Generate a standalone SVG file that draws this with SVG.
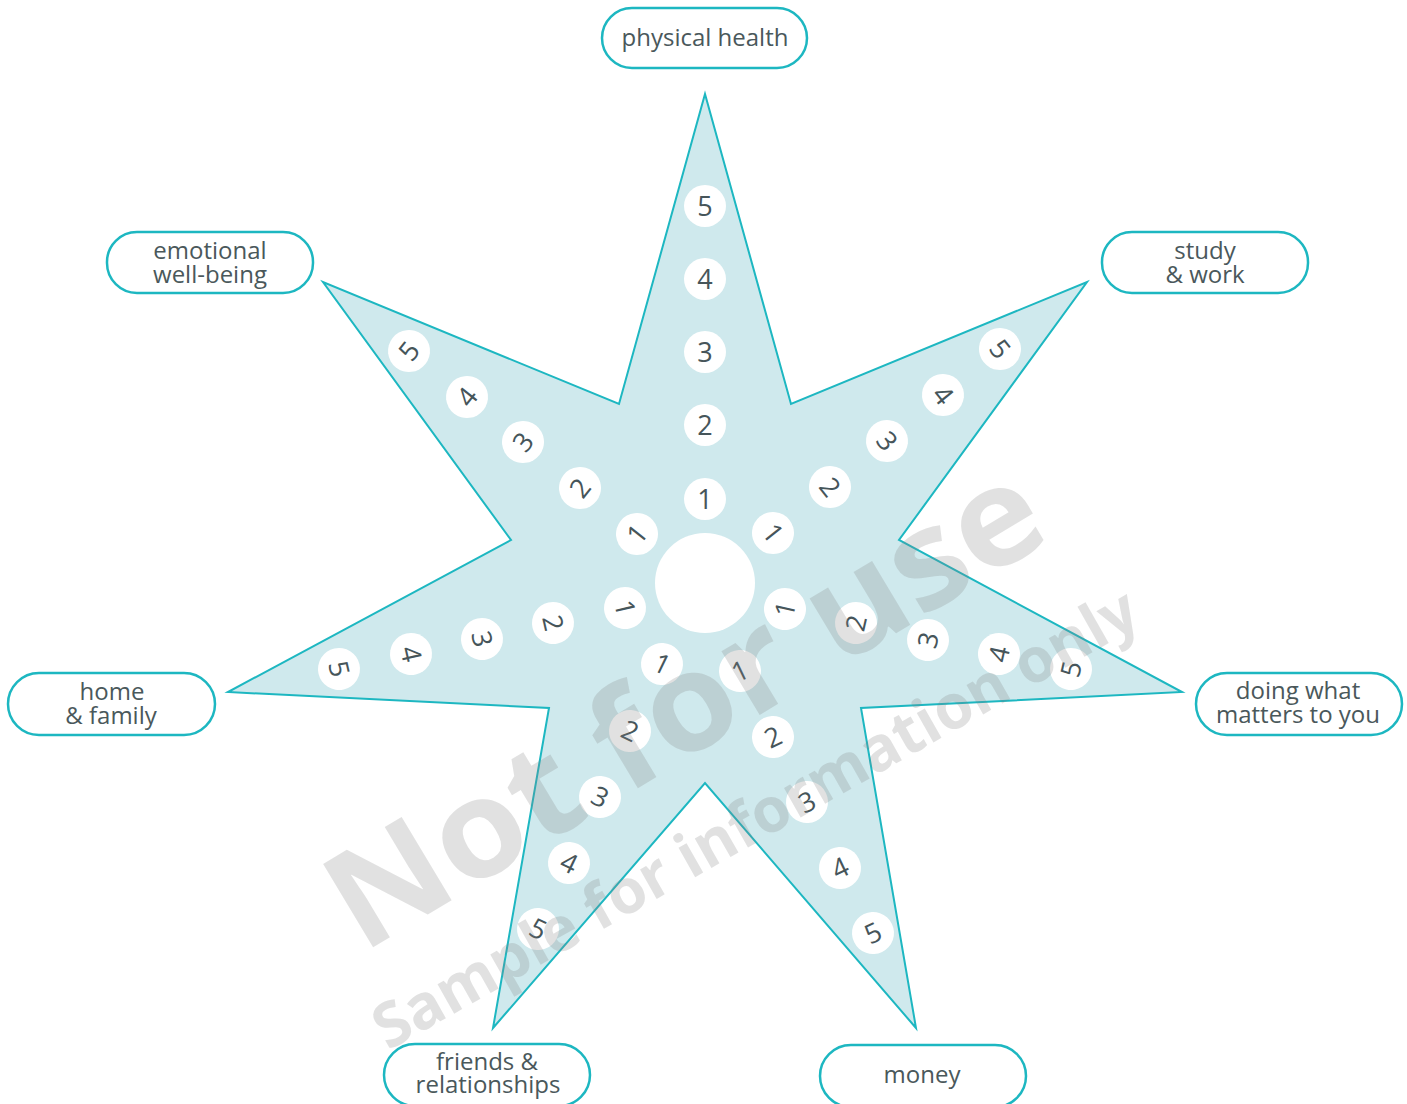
<svg xmlns="http://www.w3.org/2000/svg" width="1407" height="1104" viewBox="0 0 1407 1104">
<style>
.lbl rect{fill:#fff;stroke:#1db7c1;stroke-width:2.5}
.lbl text{font-family:"Open Sans","Noto Sans",sans-serif;font-size:24px;fill:#4a585b;text-anchor:middle}
.num circle{fill:#fff}
.num text{font-family:"Open Sans","Noto Sans",sans-serif;font-size:27px;fill:#46555a;text-anchor:middle}
.wm{font-family:"Open Sans","Noto Sans",sans-serif;font-weight:bold;fill:#808080;fill-opacity:0.24}
</style>
<rect width="1407" height="1104" fill="#fff"/>
<g id="star">
<polygon points="705,94 791,404 1087,282 899,540 1182,692 861,708 916,1028 705,783 493,1028 549,708 228,692 511,540 323,282 619,404" fill="#cfe9ed" stroke="#1db7c1" stroke-width="2" stroke-linejoin="miter"/>
<circle id="hub" cx="705" cy="583" r="50" fill="#fff"/>
</g>
<g id="arm-top" class="num">
<g id="top-1" transform="translate(705,499)"><circle r="21"/><text y="9.6">1</text></g>
<g id="top-2" transform="translate(705,425)"><circle r="21"/><text y="9.6">2</text></g>
<g id="top-3" transform="translate(705,352)"><circle r="21"/><text y="9.6">3</text></g>
<g id="top-4" transform="translate(705,279)"><circle r="21"/><text y="9.6">4</text></g>
<g id="top-5" transform="translate(705,206)"><circle r="21"/><text y="9.6">5</text></g>
</g>
<g id="arm-upper-right" class="num">
<g id="ur-1" transform="translate(773,533) rotate(51.43)"><circle r="21"/><text y="9.6">1</text></g>
<g id="ur-2" transform="translate(830,487) rotate(51.43)"><circle r="21"/><text y="9.6">2</text></g>
<g id="ur-3" transform="translate(887,441) rotate(51.43)"><circle r="21"/><text y="9.6">3</text></g>
<g id="ur-4" transform="translate(943,395) rotate(51.43)"><circle r="21"/><text y="9.6">4</text></g>
<g id="ur-5" transform="translate(1000,349) rotate(51.43)"><circle r="21"/><text y="9.6">5</text></g>
</g>
<g id="arm-right" class="num">
<g id="r-1" transform="translate(785,609) rotate(-77.14)"><circle r="21"/><text y="9.6">1</text></g>
<g id="r-2" transform="translate(856,623) rotate(-77.14)"><circle r="21"/><text y="9.6">2</text></g>
<g id="r-3" transform="translate(928,640) rotate(-77.14)"><circle r="21"/><text y="9.6">3</text></g>
<g id="r-4" transform="translate(999,654) rotate(-77.14)"><circle r="21"/><text y="9.6">4</text></g>
<g id="r-5" transform="translate(1071,669) rotate(-77.14)"><circle r="21"/><text y="9.6">5</text></g>
</g>
<g id="arm-bottom-right" class="num">
<g id="br-1" transform="translate(740,671) rotate(-25.71)"><circle r="21"/><text y="9.6">1</text></g>
<g id="br-2" transform="translate(773,737) rotate(-25.71)"><circle r="21"/><text y="9.6">2</text></g>
<g id="br-3" transform="translate(807,802) rotate(-25.71)"><circle r="21"/><text y="9.6">3</text></g>
<g id="br-4" transform="translate(840,868) rotate(-25.71)"><circle r="21"/><text y="9.6">4</text></g>
<g id="br-5" transform="translate(873,933) rotate(-25.71)"><circle r="21"/><text y="9.6">5</text></g>
</g>
<g id="arm-bottom-left" class="num">
<g id="bl-1" transform="translate(662,664) rotate(25.71)"><circle r="21"/><text y="9.6">1</text></g>
<g id="bl-2" transform="translate(630,731) rotate(25.71)"><circle r="21"/><text y="9.6">2</text></g>
<g id="bl-3" transform="translate(600,797) rotate(25.71)"><circle r="21"/><text y="9.6">3</text></g>
<g id="bl-4" transform="translate(569,863) rotate(25.71)"><circle r="21"/><text y="9.6">4</text></g>
<g id="bl-5" transform="translate(538,929) rotate(25.71)"><circle r="21"/><text y="9.6">5</text></g>
</g>
<g id="arm-left" class="num">
<g id="l-1" transform="translate(625,608) rotate(77.14)"><circle r="21"/><text y="9.6">1</text></g>
<g id="l-2" transform="translate(553,623) rotate(77.14)"><circle r="21"/><text y="9.6">2</text></g>
<g id="l-3" transform="translate(482,639) rotate(77.14)"><circle r="21"/><text y="9.6">3</text></g>
<g id="l-4" transform="translate(411,654) rotate(77.14)"><circle r="21"/><text y="9.6">4</text></g>
<g id="l-5" transform="translate(339,669) rotate(77.14)"><circle r="21"/><text y="9.6">5</text></g>
</g>
<g id="arm-upper-left" class="num">
<g id="ul-1" transform="translate(637,534) rotate(-51.43)"><circle r="21"/><text y="9.6">1</text></g>
<g id="ul-2" transform="translate(580,488) rotate(-51.43)"><circle r="21"/><text y="9.6">2</text></g>
<g id="ul-3" transform="translate(523,442) rotate(-51.43)"><circle r="21"/><text y="9.6">3</text></g>
<g id="ul-4" transform="translate(467,397) rotate(-51.43)"><circle r="21"/><text y="9.6">4</text></g>
<g id="ul-5" transform="translate(409,351) rotate(-51.43)"><circle r="21"/><text y="9.6">5</text></g>
</g>
<g id="label-physical" class="lbl"><rect x="602" y="8" width="205" height="60" rx="30"/><text x="705" y="46">physical health</text></g>
<g id="label-emotional" class="lbl"><rect x="107" y="232" width="206" height="61" rx="30"/><text x="210" y="259">emotional</text><text x="210" y="283">well-being</text></g>
<g id="label-study" class="lbl"><rect x="1102" y="232" width="206" height="61" rx="30"/><text x="1205" y="259">study</text><text x="1205" y="283">&amp; work</text></g>
<g id="label-home" class="lbl"><rect x="8" y="673" width="207" height="62" rx="31"/><text x="112" y="700">home</text><text x="111" y="724">&amp; family</text></g>
<g id="label-doing" class="lbl"><rect x="1196" y="673" width="206" height="62" rx="31"/><text x="1298" y="699">doing what</text><text x="1298" y="723">matters to you</text></g>
<g id="label-friends" class="lbl"><rect x="384" y="1044" width="206" height="62" rx="31"/><text x="487" y="1070">friends &amp;</text><text x="488" y="1093">relationships</text></g>
<g id="label-money" class="lbl"><rect x="820" y="1045" width="206" height="62" rx="31"/><text x="922" y="1083">money</text></g>
<g id="watermark">
<text class="wm" transform="translate(362,954) rotate(-31)" font-size="136" textLength="808" lengthAdjust="spacingAndGlyphs">Not for use</text>
<text class="wm" transform="translate(388,1051) rotate(-29.5)" font-size="62" textLength="868" lengthAdjust="spacingAndGlyphs">Sample for information only</text>
</g>
</svg>
